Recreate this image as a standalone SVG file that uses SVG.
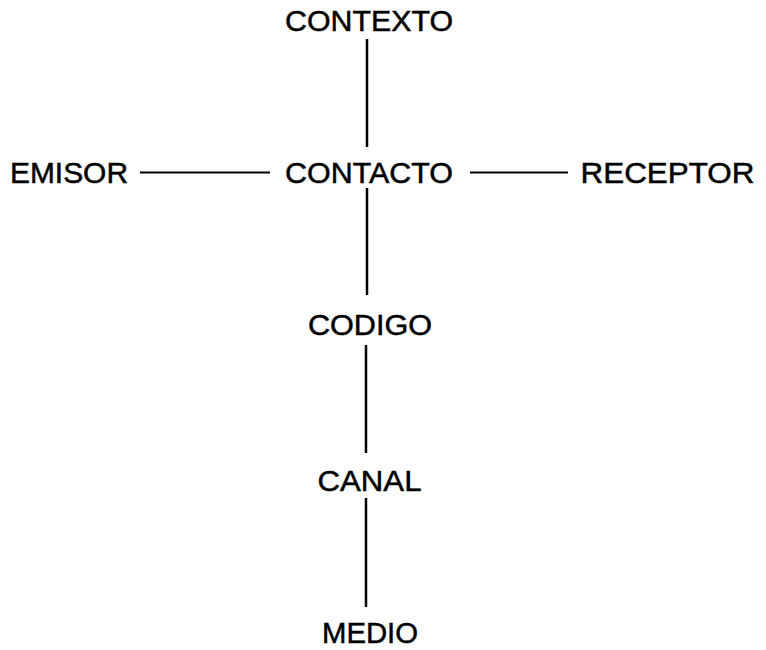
<svg xmlns="http://www.w3.org/2000/svg" width="766" height="650" viewBox="0 0 766 650">
<style>
  text { font-family: "Liberation Sans", Arial, sans-serif; font-size: 30px; fill: #000; stroke: #000; stroke-width: 0.5; text-anchor: middle; }
  .c { stroke: #000; stroke-width: 2.5; fill: none; }
  .h { stroke: #000; stroke-width: 2; fill: none; }
</style>
<rect width="766" height="650" fill="#fff"/>
<g id="connectors">
  <line class="c" x1="367" y1="39" x2="367" y2="147"/>
  <line class="h" x1="140" y1="172.5" x2="270" y2="172.5"/>
  <line class="h" x1="470" y1="172.5" x2="568" y2="172.5"/>
  <line class="c" x1="367" y1="188" x2="367" y2="295"/>
  <line class="c" x1="366" y1="345" x2="366" y2="453"/>
  <line class="c" x1="366" y1="498" x2="366" y2="607"/>
</g>
<g id="contexto"><text x="369" y="31" textLength="168" lengthAdjust="spacingAndGlyphs">CONTEXTO</text></g>
<g id="emisor"><text x="69" y="183" textLength="118" lengthAdjust="spacingAndGlyphs">EMISOR</text></g>
<g id="contacto"><text x="369" y="183" textLength="168" lengthAdjust="spacingAndGlyphs">CONTACTO</text></g>
<g id="receptor"><text x="667.5" y="183" textLength="174" lengthAdjust="spacingAndGlyphs">RECEPTOR</text></g>
<g id="codigo"><text x="370" y="335" textLength="124" lengthAdjust="spacingAndGlyphs">CODIGO</text></g>
<g id="canal"><text x="369.5" y="491" textLength="104" lengthAdjust="spacingAndGlyphs">CANAL</text></g>
<g id="medio"><text x="370" y="643" textLength="96" lengthAdjust="spacingAndGlyphs">MEDIO</text></g>
</svg>
